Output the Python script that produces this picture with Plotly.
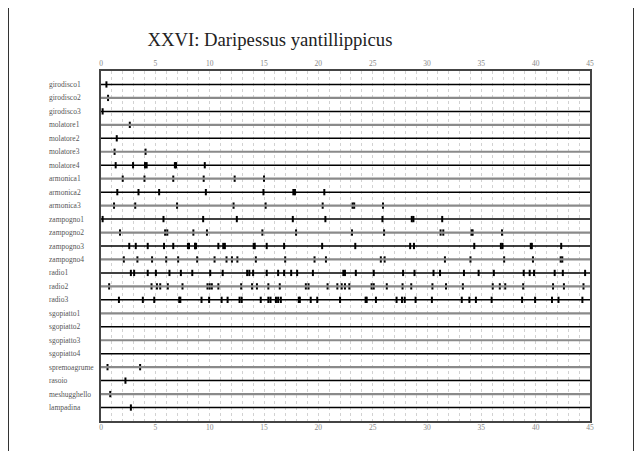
import plotly.graph_objects as go

# instrument rows, top to bottom
rows = [
    "girodisco1", "girodisco2", "girodisco3",
    "molatore1", "molatore2", "molatore3", "molatore4",
    "armonica1", "armonica2", "armonica3",
    "zampogno1", "zampogno2", "zampogno3", "zampogno4",
    "radio1", "radio2", "radio3",
    "sgopiatto1", "sgopiatto2", "sgopiatto3", "sgopiatto4",
    "spremoagrume", "rasoio", "meshugghello", "lampadina",
]

# event times for each row (seconds)
girodisco1 = [0.5]
girodisco2 = [0.65]
girodisco3 = [0.15]
molatore1 = [2.65]
molatore2 = [1.45]
molatore3 = [1.25, 4.1]
molatore4 = [1.35, 2.95, 4.05, 4.2, 6.8, 6.9, 9.55]
armonica1 = [2.0, 4.0, 6.65, 9.45, 12.3, 15.0]
armonica2 = [1.5, 3.45, 5.35, 9.65, 14.95, 17.7, 17.85, 20.55]
armonica3 = [1.2, 3.15, 7.0, 12.2, 15.15, 20.4, 23.15, 23.3, 25.95]
zampogno1 = [0.15, 5.75, 9.4, 12.5, 17.65, 20.65, 25.9, 28.6, 28.75, 31.4]
zampogno2 = [1.75, 5.9, 6.1, 8.5, 9.75, 14.85, 17.95, 23.1, 26.05,
             31.25, 31.5, 34.1, 34.2, 36.9]
zampogno3 = [2.6, 3.2, 4.3, 5.8, 6.65, 8.0, 8.1, 8.65, 8.75, 10.8, 11.25,
             11.4, 14.05, 14.15, 15.25, 16.85, 20.35, 23.4, 28.45, 28.8,
             34.35, 36.8, 36.95, 39.55, 39.65, 42.35]
zampogno4 = [2.1, 3.35, 4.7, 6.0, 7.1, 8.85, 10.45, 11.55, 12.05, 12.55,
             14.25, 16.95, 19.65, 20.7, 25.75, 26.1, 31.65, 34.0, 37.1,
             39.75, 42.3, 42.45]
radio1 = [2.75, 3.05, 4.3, 5.05, 6.3, 7.35, 8.4, 10.05, 11.2, 13.45, 13.65,
          14.0, 15.25, 16.3, 16.85, 17.5, 18.05, 19.5, 22.3, 22.45, 23.45,
          25.1, 27.8, 28.85, 30.6, 31.2, 33.4, 34.75, 36.15, 38.9, 39.45,
          39.85, 41.75, 42.5, 44.55]
radio2 = [0.75, 4.65, 5.15, 5.45, 6.15, 7.5, 9.8, 10.0, 10.2, 10.8, 12.9,
          13.9, 14.35, 15.4, 16.45, 18.85, 19.1, 20.85, 21.75, 22.15, 22.45,
          22.85, 24.9, 25.1, 26.3, 27.75, 28.55, 30.5, 31.75, 33.3, 36.05,
          36.7, 37.2, 38.85, 41.6, 42.6, 44.4]
radio3 = [1.65, 3.85, 4.9, 7.2, 7.3, 9.25, 9.95, 11.1, 11.65, 12.75, 12.95,
          14.7, 15.4, 15.6, 16.1, 16.3, 16.55, 18.2, 18.3, 19.3, 19.9, 22.0,
          24.35, 24.45, 25.3, 27.2, 27.7, 27.95, 28.95, 30.45, 33.2, 33.9,
          34.5, 35.95, 38.75, 39.95, 41.5, 42.1, 44.3]
sgopiatto1 = []
sgopiatto2 = []
sgopiatto3 = []
sgopiatto4 = []
spremoagrume = [0.6, 3.6]
rasoio = [2.25]
meshugghello = [0.85]
lampadina = [2.75]

events = [
    girodisco1, girodisco2, girodisco3,
    molatore1, molatore2, molatore3, molatore4,
    armonica1, armonica2, armonica3,
    zampogno1, zampogno2, zampogno3, zampogno4,
    radio1, radio2, radio3,
    sgopiatto1, sgopiatto2, sgopiatto3, sgopiatto4,
    spremoagrume, rasoio, meshugghello, lampadina,
]

x_ticks = [0, 5, 10, 15, 20, 25, 30, 35, 40, 45]
x_min, x_max = 0, 45

serif = "Liberation Serif, Times New Roman, serif"

# page has an 8px body margin, so the figure is a bit smaller than the window
W, H = 626, 443
ML, MT, PW, PH = 93, 63, 489, 350

shapes = []
# row baselines, alternating black / grey
for i, name in enumerate(rows):
    black = i % 2 == 0
    shapes.append(dict(type="line", xref="x domain", yref="y",
                       x0=0, x1=1, y0=i, y1=i, layer="above",
                       line=dict(color="#000000" if black else "#8a8a8a",
                                 width=1.5 if black else 2.2)))
# thin page frame lines
for px in (0.5, W - 0.5):
    shapes.append(dict(type="line", xref="paper", yref="paper",
                       x0=(px - ML) / PW, x1=(px - ML) / PW, y0=-0.2, y1=1.3,
                       line=dict(color="#333333", width=1)))

fig = go.Figure()

# event marks
xs, ys = [], []
for i, ev in enumerate(events):
    xs += ev
    ys += [i] * len(ev)
fig.add_trace(go.Scatter(
    x=xs, y=ys, mode="markers",
    marker=dict(symbol="line-ns", size=4.5, color="black",
                line=dict(width=2, color="black")),
    showlegend=False, hoverinfo="x+y",
))

# dummy trace for bottom axis ticks
fig.add_trace(go.Scatter(x=[x_min, x_max], y=[0, 0], xaxis="x2",
                         mode="markers", marker=dict(opacity=0),
                         showlegend=False, hoverinfo="skip"))

# row labels, left aligned
for i, name in enumerate(rows):
    fig.add_annotation(x=-0.111, xref="paper", y=i, yref="y", text=name,
                       showarrow=False, xanchor="left", yanchor="middle",
                       font=dict(family=serif, size=7.5, color="#555555"))

axis_font = dict(family=serif, size=7.5, color="#888888")
fig.update_layout(
    width=W, height=H,
    margin=dict(l=ML, r=W - ML - PW, t=MT, b=H - MT - PH),
    paper_bgcolor="white", plot_bgcolor="white",
    title=dict(text="XXVI: Daripessus yantillippicus", x=0.4185,
               xanchor="center", y=0.928, yanchor="middle", xref="container",
               font=dict(family=serif, size=18.7, color="#222222")),
    xaxis=dict(range=[x_min, x_max], side="top", tickvals=x_ticks,
               tickfont=axis_font, ticks="", showline=True, mirror=True,
               linecolor="#444444", linewidth=2, zeroline=False,
               showgrid=True, gridcolor="#d2d2d2", griddash="dot", gridwidth=1,
               minor=dict(dtick=1, showgrid=True, gridcolor="#d2d2d2",
                          griddash="dot", gridwidth=1)),
    xaxis2=dict(range=[x_min, x_max], overlaying="x", side="bottom",
                tickvals=x_ticks, tickfont=axis_font, ticks="",
                showgrid=False, zeroline=False, showline=False),
    yaxis=dict(range=[len(rows), -1], showticklabels=False, ticks="",
               showgrid=False, zeroline=False, showline=True, mirror=True,
               linecolor="#444444", linewidth=2),
    shapes=shapes,
)

fig.write_html("out.html")
